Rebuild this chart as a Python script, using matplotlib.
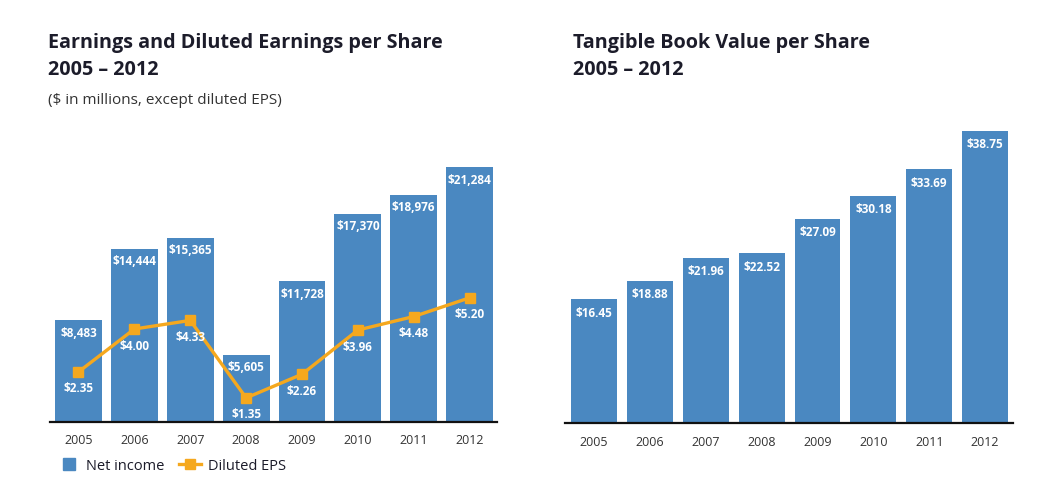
import matplotlib
matplotlib.use("Agg")
import matplotlib.pyplot as plt
from matplotlib.lines import Line2D

years = ["2005", "2006", "2007", "2008", "2009", "2010", "2011", "2012"]
net_income = [8483, 14444, 15365, 5605, 11728, 17370, 18976, 21284]
diluted_eps = [2.35, 4.00, 4.33, 1.35, 2.26, 3.96, 4.48, 5.20]
tbvps = [16.45, 18.88, 21.96, 22.52, 27.09, 30.18, 33.69, 38.75]

BLUE = "#4A88C1"
ORANGE = "#F5A81E"
DARK = "#1c1c2a"
TXT = "#333333"
FONT = "Open Sans"
plt.rcParams["font.family"] = [FONT, "DejaVu Sans"]

W, H = 1056, 496
fig = plt.figure(figsize=(W / 100, H / 100), dpi=100)


def px_axes(x0, x1, ytop, ybot):
    return fig.add_axes([x0 / W, 1 - ybot / H, (x1 - x0) / W, (ybot - ytop) / H])


def style(ax):
    for s in ["top", "right", "left"]:
        ax.spines[s].set_visible(False)
    ax.spines["bottom"].set_color("#111111")
    ax.spines["bottom"].set_linewidth(1.6)
    ax.set_yticks([])
    ax.tick_params(axis="x", length=0, pad=9, labelsize=9, labelcolor=TXT)
    ax.set_facecolor("none")


x = list(range(len(years)))

# ---------- left panel ----------
top, bot = 150, 422
ax1 = px_axes(50, 497, top, bot)
scale1 = 255 / 21284  # px per unit
ax1.bar(x, net_income, width=0.84, color=BLUE, zorder=1)
ax1.set_xlim(-0.51, 7.49)
ax1.set_ylim(0, (bot - top) / scale1)
ax1.set_xticks(x)
ax1.set_xticklabels(years)
style(ax1)
for xi, v in zip(x, net_income):
    ax1.annotate(f"${v:,}", (xi, v), xytext=(0, -13), textcoords="offset pixels",
                 ha="center", va="center", color="white", fontsize=8.5,
                 fontweight="bold", zorder=5)

ax2 = ax1.twinx()
eps_scale = 26.0
eps_zero = 433
ax2.set_ylim((eps_zero - bot) / eps_scale, (eps_zero - top) / eps_scale)
ax2.plot(x, diluted_eps, color=ORANGE, lw=2.4, marker="s", ms=6.5, zorder=4)
ax2.set_yticks([])
for s in ["top", "right", "left", "bottom"]:
    ax2.spines[s].set_visible(False)
for xi, v in zip(x, diluted_eps):
    ax2.annotate(f"${v:.2f}", (xi, v), xytext=(0, -17), textcoords="offset pixels",
                 ha="center", va="center", color="white", fontsize=8.5,
                 fontweight="bold", zorder=5)

fig.text(48 / W, 1 - 43 / H, "Earnings and Diluted Earnings per Share",
         fontsize=14.2, fontweight="bold", color=DARK, va="center", ha="left")
fig.text(48 / W, 1 - 70 / H, "2005 – 2012",
         fontsize=14.2, fontweight="bold", color=DARK, va="center", ha="left")
fig.text(48 / W, 1 - 100 / H, "($ in millions, except diluted EPS)",
         fontsize=11, color=TXT, va="center", ha="left")

handles = [Line2D([0], [0], color=BLUE, lw=0, marker="s", ms=8.5),
           Line2D([0], [0], color=ORANGE, lw=2.4, marker="s", ms=6.5)]
fig.legend(handles, ["Net income", "Diluted EPS"], loc="center left",
           bbox_to_anchor=(52 / W, 1 - 466 / H), ncol=2, frameon=False,
           fontsize=10.5, handlelength=1.5, columnspacing=1.0,
           handletextpad=0.45, labelcolor=DARK, borderaxespad=0)

# ---------- right panel ----------
top, bot = 120, 423
ax3 = px_axes(565, 1013, top, bot)
scale3 = 292 / 38.75
ax3.bar(x, tbvps, width=0.82, color=BLUE)
ax3.set_xlim(-0.52, 7.5)
ax3.set_ylim(0, (bot - top) / scale3)
ax3.set_xticks(x)
ax3.set_xticklabels(years)
style(ax3)
for xi, v in zip(x, tbvps):
    ax3.annotate(f"${v:.2f}", (xi, v), xytext=(0, -14), textcoords="offset pixels",
                 ha="center", va="center", color="white", fontsize=8.5,
                 fontweight="bold")

fig.text(573 / W, 1 - 43 / H, "Tangible Book Value per Share",
         fontsize=14.2, fontweight="bold", color=DARK, va="center", ha="left")
fig.text(573 / W, 1 - 70 / H, "2005 – 2012",
         fontsize=14.2, fontweight="bold", color=DARK, va="center", ha="left")

fig.savefig("out.png", dpi=100, facecolor="white")
